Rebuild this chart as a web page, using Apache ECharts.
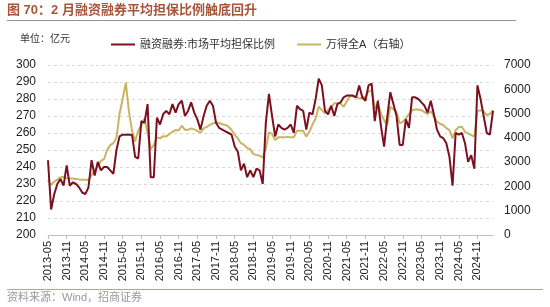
<!DOCTYPE html>
<html><head><meta charset="utf-8">
<script src="https://cdn.jsdelivr.net/npm/echarts@6/dist/echarts.min.js"></script>
<style>html,body{margin:0;padding:0;background:#fff}#c{width:550px;height:307px}</style>
</head><body><div id="c"></div>
<script>
// monthly categories 2013-05 .. 2025-04
var startYear = 2013, startMonth = 5, nMonths = 144;
var categories = [];
for (var i = 0; i < nMonths; i++) {
  var m = startMonth - 1 + i;
  var y = startYear + Math.floor(m / 12);
  var mm = (m % 12) + 1;
  categories.push(y + '-' + (mm < 10 ? '0' + mm : mm));
}
var marginRatio = [
 244,215,224,230,233,229,241,229,231,230,228,225,
 224,228,244,235,243,238,240,240,238,236,250,258,
 259,259,259,259,246,245,267,266,277,234,234,269,
 265,271,273,271,277,272,277,279,270,273,278,272,
 268,262,270,276,279,276,266,263,262,261,260,259,
 252,249,238,242,234,238,234,239,238,230,266,283,
 270,258,265,263,262,263,265,260,276,274,273,262,
 272,271,280,292,288,273,271,276,270,277,278,281,
 282,282,282,281,288,281,279,288,289,267,279,264,
 252,269,284,277,270,253,253,268,263,281,281,280,
 278,276,272,279,271,262,258,257,254,246,229,260,
 259,260,254,243,247,239,288,280,270,260,259,273
];
var windA = [
 2260,2060,2200,2280,2370,2400,2340,2330,2330,2310,2290,2280,
 2270,2260,2460,2650,2830,3050,3120,3500,3700,3780,4000,5000,
 5600,6270,5100,4300,3850,4300,4530,4800,4200,3530,3700,4020,
 3980,4070,4060,4160,4250,4320,4300,4500,4330,4330,4390,4350,
 4290,4210,4390,4450,4530,4600,4620,4620,4560,4530,4460,4330,
 4120,3980,3780,3710,3580,3530,3330,3300,3260,3200,3560,4230,
 4160,3910,4020,4020,4020,4040,4020,4020,4290,4290,4290,4050,
 4250,4550,4800,5280,5140,5010,5150,5280,5420,5420,5420,5280,
 5500,5720,5700,5690,5620,5650,5690,5900,5970,5210,5420,5000,
 4730,4530,5280,5180,5075,4600,4660,4800,4980,5140,5170,5170,
 5140,5060,4980,5100,4900,4660,4580,4530,4400,4320,3980,4320,
 4450,4460,4250,4180,4110,4050,5100,5140,5090,4940,4980,5140
];
var leftTicks = {min: 200, max: 300, interval: 10};
var rightTicks = {min: 0, max: 7000, interval: 1000};
var seriesNames = ['融资融券:市场平均担保比例', '万得全A（右轴）'];
var titleText = '图 70：2 月融资融券平均担保比例触底回升';
var unitText = '单位：亿元';
var sourceText = '资料来源：Wind，招商证券';

var RED = '#7a1020', GOLD = '#c9b462';
var cjk = '"Liberation Sans", "Noto Sans CJK SC", sans-serif';
var chart = echarts.init(document.getElementById('c'), null, {renderer: 'canvas'});
chart.setOption({
  animation: false,
  backgroundColor: '#fff',
  textStyle: {fontFamily: cjk},
  grid: {left: 48, right: 57, top: 65, bottom: 72},
  legend: {
    left: 106, top: 34, itemWidth: 24, itemHeight: 2, itemGap: 22,
    icon: 'rect',
    textStyle: {fontSize: 11, color: '#333', fontFamily: cjk},
    data: seriesNames
  },
  xAxis: {
    type: 'category', data: categories, boundaryGap: false,
    axisLine: {lineStyle: {color: '#bfbfbf'}},
    axisTick: {interval: 5, length: 4, lineStyle: {color: '#bfbfbf'}},
    axisLabel: {interval: 5, rotate: 90, fontSize: 11, color: '#222', margin: 6, fontFamily: cjk},
    splitLine: {show: false}
  },
  yAxis: [{
    type: 'value', min: leftTicks.min, max: leftTicks.max, interval: leftTicks.interval,
    axisLine: {show: false}, axisTick: {show: false},
    axisLabel: {fontSize: 12, color: '#222', margin: 12, fontFamily: cjk},
    splitLine: {lineStyle: {color: '#d9d9d9', type: [3, 3]}}
  }, {
    type: 'value', min: rightTicks.min, max: rightTicks.max, interval: rightTicks.interval,
    axisLine: {show: false}, axisTick: {show: false},
    axisLabel: {fontSize: 12, color: '#222', margin: 11, fontFamily: cjk, formatter: function (v) { return String(v); }},
    splitLine: {show: false}
  }],
  series: [{
    name: seriesNames[1], type: 'line', yAxisIndex: 1, data: windA,
    showSymbol: false, symbol: 'none', lineStyle: {color: GOLD, width: 2}, itemStyle: {color: GOLD}, z: 2
  }, {
    name: seriesNames[0], type: 'line', yAxisIndex: 0, data: marginRatio,
    showSymbol: false, symbol: 'none', lineStyle: {color: RED, width: 2}, itemStyle: {color: RED}, z: 3
  }],
  graphic: [
    {type: 'text', left: 7, top: 4, style: {text: titleText, fontSize: 13, fontWeight: 'bold', fill: '#a8563a', fontFamily: cjk}},
    {type: 'line', shape: {x1: 7, y1: 20.5, x2: 516, y2: 20.5}, style: {stroke: '#9a8f8a', lineWidth: 1}},
    {type: 'text', left: 20, top: 34, style: {text: unitText, fontSize: 10, fill: '#333', fontFamily: cjk}},
    {type: 'line', shape: {x1: 7, y1: 289.5, x2: 543, y2: 289.5}, style: {stroke: '#b8a394', lineWidth: 1}},
    {type: 'text', left: 7, top: 292, style: {text: sourceText, fontSize: 11, fill: '#999', fontFamily: cjk}}
  ]
});
</script></body></html>
